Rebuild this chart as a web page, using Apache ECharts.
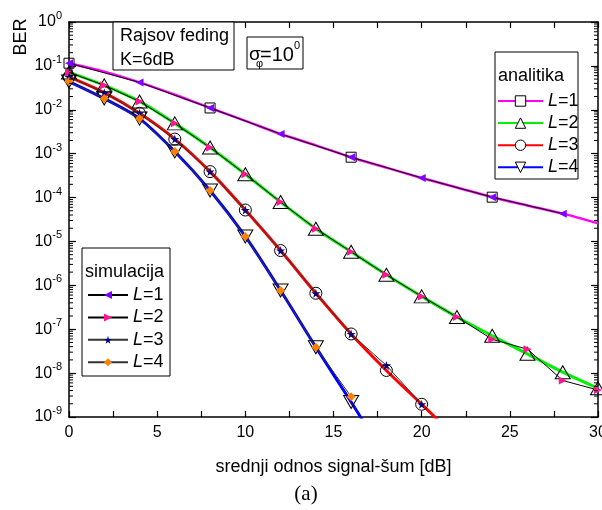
<!DOCTYPE html>
<html><head><meta charset="utf-8">
<script src="https://cdn.jsdelivr.net/npm/echarts@6/dist/echarts.min.js"></script>
<style>html,body{margin:0;padding:0;background:#fff}#c{width:602px;height:510px}</style>
</head><body><div id="c"></div>
<script>
// ---- data ----
const snr = [0,2,4,6,8,10,12,14,16,18,20,22,24,26,28,30];
const anaL1 = [1.15e-1,7.4e-2,4.2e-2,2.2e-2,1.1e-2,5.6e-3,2.8e-3,1.55e-3,8.3e-4,4.8e-4,2.8e-4,1.7e-4,1.02e-4,6.6e-5,4.3e-5,2.6e-5];
const anaL1Marks = [0,8,16,24];
const anaL2 = [7.1e-2,3.6e-2,1.55e-2,4.9e-3,1.38e-3,3.4e-4,7.9e-5,1.95e-5,5.8e-6,1.74e-6,5.6e-7,1.9e-7,7.1e-8,2.75e-8,1.05e-8,4.5e-9];
const anaL3x = [0,2,4,6,8,10,12,14,16,18,20,21];
const anaL3 = [5.6e-2,2.45e-2,8.3e-3,2.15e-3,3.9e-4,5.2e-5,6.2e-6,6.6e-7,7.8e-8,1.15e-8,1.95e-9,8e-10];
const anaL4x = [0,2,4,6,8,10,12,14,16,17];
const anaL4 = [4.4e-2,1.8e-2,6.3e-3,1.12e-3,1.45e-4,1.3e-5,7.6e-7,3.9e-8,2.2e-9,5e-10];
const simL1x = [0,4,8,12,16,20,24,28];
const simL1 = [1.15e-1,4.2e-2,1.1e-2,2.8e-3,8.3e-4,2.8e-4,1.02e-4,4.3e-5];
const simL2 = [7.1e-2,3.6e-2,1.55e-2,4.9e-3,1.38e-3,3.4e-4,7.9e-5,1.95e-5,5.8e-6,1.74e-6,5.6e-7,1.9e-7,5.9e-8,3.5e-8,6.8e-9,4.1e-9];
const simL3x = [0,2,4,6,8,10,12,14,16,18,20];
const simL3 = [5.6e-2,2.45e-2,8.3e-3,2.15e-3,3.9e-4,5.2e-5,6.2e-6,6.6e-7,7.8e-8,1.5e-8,1.95e-9];
const simL4x = [0,2,4,6,8,10,12,14,16];
const simL4 = [4.4e-2,1.8e-2,6.3e-3,1.12e-3,1.45e-4,1.3e-5,7.6e-7,3.9e-8,2.9e-9];
const legendNames = ['L=1','L=2','L=3','L=4'];
const xMin = 0, xMax = 30, xStep = 5;
const yMin = 1e-9, yMax = 1;

// ---- helpers ----
const FONT = "'Liberation Sans', Arial, sans-serif";
const yMinorTicks = [];
for (let d = -9; d < 0; d++) for (let m = 2; m <= 9; m++) yMinorTicks.push([0, m * Math.pow(10, d)]);
function anaData(xs, ys, marks) {
  return xs.map((x, i) => marks.includes(x) ? [x, ys[i]] : { value: [x, ys[i]], symbol: 'none' });
}
function pairs(xs, ys) { return xs.map((x, i) => [x, ys[i]]); }
function even(xs){ return xs.filter(x => x % 2 === 0 && x <= 30); }
const STAR = 'path://M50,0 L61,35 L98,35 L68,57 L79,91 L50,70 L21,91 L32,57 L2,35 L39,35 Z';
const hollow = { color: 'rgba(255,255,255,0)', borderColor: '#000', borderWidth: 1 };
const legendFmt = n => '{i|L}=' + n.slice(-1);

const chart = echarts.init(document.getElementById('c'), null, { renderer: 'canvas' });
const axisCommon = {
  axisLine: { show: true, onZero: false, lineStyle: { color: '#000', width: 1.5 } },
  splitLine: { show: false },
};
chart.setOption({
  animation: false,
  backgroundColor: '#fff',
  textStyle: { fontFamily: FONT, color: '#000' },
  grid: { left: 69, right: 4, top: 22, bottom: 93, containLabel: false, outerBoundsMode: 'none' },
  xAxis: [
    Object.assign({
      type: 'value', min: xMin, max: xMax, interval: xStep, position: 'bottom',
      axisTick: { show: true, inside: true, length: 6, lineStyle: { color: '#000', width: 1.2 } },
      minorTick: { show: true, splitNumber: 2, length: 6, lineStyle: { color: '#000', width: 1.2 } },
      axisLabel: { show: true, fontSize: 16, color: '#000', margin: 8, fontFamily: FONT },
      name: 'srednji odnos signal-šum [dB]', nameLocation: 'middle', nameGap: 41,
      nameTextStyle: { fontSize: 18, color: '#000', fontFamily: FONT }
    }, axisCommon),
    Object.assign({
      type: 'value', min: xMin, max: xMax, interval: xStep, position: 'top',
      axisTick: { show: true, inside: true, length: 6, lineStyle: { color: '#000', width: 1.2 } },
      minorTick: { show: true, splitNumber: 2, length: 6, lineStyle: { color: '#000', width: 1.2 } },
      axisLabel: { show: false }
    }, axisCommon)
  ],
  yAxis: [
    Object.assign({
      type: 'log', logBase: 10, min: yMin, max: yMax, interval: 1, position: 'left',
      axisTick: { show: true, inside: true, length: 7, lineStyle: { color: '#000', width: 1.2 } },
      axisLabel: {
        show: true, margin: 7, color: '#000', fontSize: 16, fontFamily: FONT,
        formatter: v => '10{s|' + Math.round(Math.log10(v)) + '}',
        rich: { s: { fontSize: 11, lineHeight: 11, padding: [0, 0, 12, 0], fontFamily: FONT, color: '#000' } }
      }
    }, axisCommon),
    Object.assign({
      type: 'log', logBase: 10, min: yMin, max: yMax, interval: 1, position: 'right',
      axisTick: { show: true, inside: true, length: 7, lineStyle: { color: '#000', width: 1.2 } },
      axisLabel: { show: false }
    }, axisCommon)
  ],
  legend: [
    {
      data: ['a1','a2','a3','a4'], orient: 'vertical', left: 497, top: 92, padding: 0,
      itemWidth: 45, itemHeight: 13, itemGap: 4.1,
      formatter: legendFmt,
      itemStyle: { color: '#fff', borderColor: '#000', borderWidth: 1 },
      textStyle: { fontSize: 18, color: '#000', fontFamily: FONT, rich: { i: { fontStyle: 'italic', fontSize: 18, fontFamily: FONT } } },
      selectedMode: false
    },
    {
      data: ['s1','s2','s3','s4'], orient: 'vertical', left: 87, top: 286, padding: 0,
      itemWidth: 40, itemHeight: 10, itemGap: 4.4,
      formatter: legendFmt,
      textStyle: { fontSize: 18, color: '#000', fontFamily: FONT, rich: { i: { fontStyle: 'italic', fontSize: 18, fontFamily: FONT } } },
      selectedMode: false
    }
  ],
  graphic: [
    { type: 'text', x: 21, y: 37, rotation: Math.PI / 2, style: { text: 'BER', fontSize: 18, fontFamily: FONT, fill: '#000', align: 'center', verticalAlign: 'middle' } },
    { type: 'text', x: 306, y: 494, style: { text: '(a)', fontSize: 21, fontFamily: "'Liberation Serif', 'Times New Roman', serif", fill: '#000', align: 'center', verticalAlign: 'middle' } },
    { type: 'rect', shape: { x: 113, y: 22, width: 121, height: 48 }, style: { fill: '#fff', stroke: '#000', lineWidth: 1 }, z: 5 },
    { type: 'text', x: 120, y: 36, z: 6, style: { text: 'Rajsov feding', fontSize: 18, fontFamily: FONT, fill: '#000', verticalAlign: 'middle' } },
    { type: 'text', x: 120, y: 60, z: 6, style: { text: 'K=6dB', fontSize: 18, fontFamily: FONT, fill: '#000', verticalAlign: 'middle' } },
    { type: 'rect', shape: { x: 247, y: 37, width: 56, height: 32 }, style: { fill: '#fff', stroke: '#000', lineWidth: 1 }, z: 5 },
    { type: 'text', x: 249, y: 55, z: 6, style: { text: 'σ', fontSize: 19, fontFamily: FONT, fill: '#000', verticalAlign: 'middle' } },
    { type: 'text', x: 256, y: 64, z: 6, style: { text: 'φ', fontSize: 11, fontFamily: FONT, fill: '#000', verticalAlign: 'middle' } },
    { type: 'text', x: 260, y: 55, z: 6, style: { text: '=10', fontSize: 20, fontFamily: FONT, fill: '#000', verticalAlign: 'middle' } },
    { type: 'text', x: 294, y: 46, z: 6, style: { text: '0', fontSize: 11, fontFamily: FONT, fill: '#000', verticalAlign: 'middle' } },
    { type: 'rect', shape: { x: 495, y: 52, width: 83, height: 127 }, style: { fill: 'none', stroke: '#000', lineWidth: 1 }, z: 5 },
    { type: 'text', x: 498, y: 76, z: 6, style: { text: 'analitika', fontSize: 18, fontFamily: FONT, fill: '#000', verticalAlign: 'middle' } },
    { type: 'rect', shape: { x: 82, y: 248, width: 88, height: 128 }, style: { fill: 'none', stroke: '#000', lineWidth: 1 }, z: 5 },
    { type: 'text', x: 85, y: 272, z: 6, style: { text: 'simulacija', fontSize: 18, fontFamily: FONT, fill: '#000', verticalAlign: 'middle' } }
  ],
  series: [
    { name: 'a1', type: 'line', data: anaData(snr, anaL1, anaL1Marks), smooth: 0.3, symbol: 'rect', symbolSize: 10,
      lineStyle: { color: '#ff00ff', width: 2.5 }, itemStyle: hollow, z: 2 },
    { name: 'a2', type: 'line', data: anaData(snr, anaL2, even(snr)), smooth: 0.3, symbol: 'triangle', symbolSize: [15, 13],
      lineStyle: { color: '#00f000', width: 3 }, itemStyle: hollow, z: 2 },
    { name: 'a3', type: 'line', data: anaData(anaL3x, anaL3, even(anaL3x).filter(x => x <= 20)), smooth: 0.3, symbol: 'circle', symbolSize: 12,
      lineStyle: { color: '#ff0000', width: 3 }, itemStyle: hollow, z: 2 },
    { name: 'a4', type: 'line', data: anaData(anaL4x, anaL4, even(anaL4x).filter(x => x <= 16)), smooth: 0.3, symbol: 'triangle', symbolRotate: 180, symbolSize: [15, 13],
      lineStyle: { color: '#0000ff', width: 3 }, itemStyle: hollow, z: 2 },
    { name: 's1', type: 'line', data: pairs(simL1x, simL1), symbol: 'triangle', symbolRotate: 90, symbolSize: 8,
      lineStyle: { color: '#000', width: 1 }, itemStyle: { color: '#8000ff' }, z: 3 },
    { name: 's2', type: 'line', data: pairs(snr, simL2), symbol: 'triangle', symbolRotate: -90, symbolSize: 8,
      lineStyle: { color: '#000', width: 1 }, itemStyle: { color: '#ff1493' }, z: 3 },
    { name: 's3', type: 'line', data: pairs(simL3x, simL3), symbol: STAR, symbolSize: 9,
      lineStyle: { color: '#333', width: 1 }, itemStyle: { color: '#000080' }, z: 3 },
    { name: 's4', type: 'line', data: pairs(simL4x, simL4), symbol: 'diamond', symbolSize: 9,
      lineStyle: { color: '#333', width: 1 }, itemStyle: { color: '#ff8000' }, z: 3 },
    { type: 'custom', silent: true, data: yMinorTicks, encode: { x: 0, y: 1 }, z: 4,
      renderItem: (params, api) => {
        const v = api.value(1);
        const l = api.coord([xMin, v]);
        const r = api.coord([xMax, v]);
        return { type: 'group', children: [
          { type: 'line', shape: { x1: l[0], y1: l[1], x2: l[0] + 4, y2: l[1] }, style: { stroke: '#000', lineWidth: 1 } },
          { type: 'line', shape: { x1: r[0] - 4, y1: r[1], x2: r[0], y2: r[1] }, style: { stroke: '#000', lineWidth: 1 } }
        ]};
      } }
  ]
});
</script>
</body></html>
